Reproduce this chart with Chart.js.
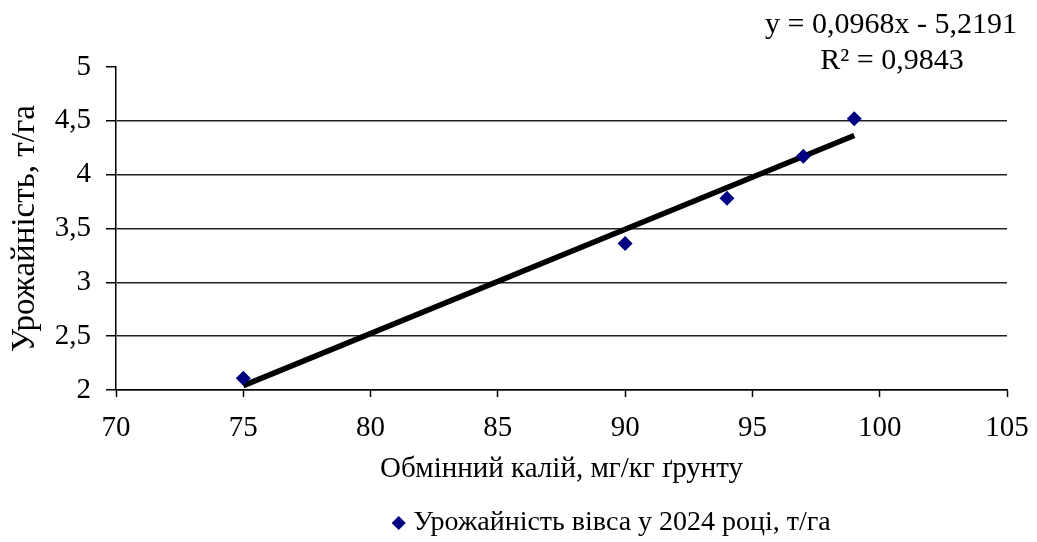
<!DOCTYPE html>
<html>
<head>
    <meta charset="UTF-8">
    <title>Урожайність вівса</title>
    <script src="https://cdn.jsdelivr.net/npm/chart.js@4/dist/chart.umd.min.js"></script>
    <style>
        html, body { margin: 0; padding: 0; background: #fff; overflow: hidden; }
        #wrap { width: 1037px; height: 547px; }
    </style>
</head>
<body>
    <div id="wrap"><canvas id="chart"></canvas></div>

    <script>
        // Обмінний калій (мг/кг) і врожайність вівса (т/га)
        const potassium = [75, 90, 94, 97, 99];
        const yieldOats = [2.11, 3.36, 3.78, 4.17, 4.52];

        // Лінійний тренд: y = 0,0968x - 5,2191
        const trendSlope = 0.0968;
        const trendIntercept = -5.2191;
        const trendRange = [75, 99];

        const xTicks = [70, 75, 80, 85, 90, 95, 100, 105];
        const yTicks = [2, 2.5, 3, 3.5, 4, 4.5, 5];

        const seriesLabel = 'Урожайність вівса у 2024 році, т/га';
        const xTitle = 'Обмінний калій, мг/кг ґрунту';
        const yTitle = 'Урожайність, т/га';
        const eqLines = ['y = 0,0968x - 5,2191', 'R² = 0,9843'];

        const serif = '"Liberation Serif", "Times New Roman", serif';
        const canvasH = 547;
        const plotBottom = 390;
        const legendShift = 111;

        const points = potassium.map((x, i) => ({ x: x, y: yieldOats[i] }));
        const trend = trendRange.map(x => ({ x: x, y: trendSlope * x + trendIntercept }));

        const comma = v => String(v).replace('.', ',');

        // підпис рівняння тренду в правому верхньому куті
        const equationLabel = {
            id: 'equationLabel',
            afterDraw(chart) {
                const ctx = chart.ctx;
                ctx.save();
                ctx.fillStyle = '#000';
                ctx.font = '30px ' + serif;
                ctx.textAlign = 'center';
                ctx.textBaseline = 'middle';
                ctx.fillText(eqLines[0], 891, 25);
                ctx.fillText(eqLines[1], 892, 61);
                ctx.restore();
            }
        };

        // легенда зміщена правіше, під праву частину графіка
        const legendOffset = {
            id: 'legendOffset',
            afterLayout(chart) {
                if (chart.legend) {
                    chart.legend.left += legendShift;
                    chart.legend.right += legendShift;
                }
            }
        };

        new Chart(document.getElementById('chart'), {
            type: 'scatter',
            data: {
                datasets: [
                    {
                        label: seriesLabel,
                        data: points,
                        pointStyle: 'rectRot',
                        pointRadius: 7.5,
                        pointHoverRadius: 7.5,
                        backgroundColor: '#000080',
                        borderColor: '#000080',
                        borderWidth: 0,
                        order: 1
                    },
                    {
                        label: 'trend',
                        type: 'line',
                        data: trend,
                        borderColor: '#000',
                        borderWidth: 5.5,
                        pointRadius: 0,
                        fill: false,
                        order: 2
                    }
                ]
            },
            plugins: [equationLabel, legendOffset],
            options: {
                responsive: true,
                maintainAspectRatio: false,
                animation: false,
                layout: { padding: { left: 0, right: 30, top: 67, bottom: 0 } },
                plugins: {
                    tooltip: { enabled: false },
                    legend: {
                        position: 'bottom',
                        labels: {
                            usePointStyle: true,
                            boxWidth: 1,
                            boxHeight: 10,
                            color: '#000',
                            font: { family: serif, size: 28 },
                            padding: 8,
                            filter: item => item.text !== 'trend'
                        }
                    }
                },
                scales: {
                    x: {
                        type: 'linear',
                        min: 70,
                        max: 105,
                        afterBuildTicks: s => { s.ticks = xTicks.map(v => ({ value: v })); },
                        afterFit: s => {
                            const lh = s.chart.legend ? s.chart.legend.height : 0;
                            s.height = canvasH - plotBottom - lh;
                            s.paddingLeft = 0;
                            s.paddingRight = 0;
                        },
                        border: { display: true, color: '#000', width: 1.5 },
                        grid: {
                            drawOnChartArea: false,
                            drawTicks: true,
                            tickLength: 7,
                            tickColor: '#000',
                            tickWidth: 1.5
                        },
                        ticks: {
                            color: '#000',
                            padding: 14,
                            maxRotation: 0,
                            font: { family: serif, size: 29 },
                            callback: v => comma(v)
                        },
                        title: {
                            display: true,
                            text: xTitle,
                            color: '#000',
                            font: { family: serif, size: 29 },
                            padding: { top: 0, bottom: 14 }
                        }
                    },
                    y: {
                        type: 'linear',
                        min: 2,
                        max: 5,
                        afterBuildTicks: s => { s.ticks = yTicks.map(v => ({ value: v })); },
                        afterFit: s => {
                            s.width = 116;
                            s.paddingTop = 0;
                            s.paddingBottom = 0;
                        },
                        border: { display: true, color: '#000', width: 1.5 },
                        grid: {
                            color: c => (c.tick && c.tick.value === 5) ? 'rgba(0,0,0,0)' : '#222',
                            lineWidth: 1.5,
                            tickColor: '#000',
                            tickLength: 10,
                            tickWidth: 1.5
                        },
                        ticks: {
                            color: '#000',
                            padding: 15,
                            font: { family: serif, size: 29 },
                            callback: v => comma(v)
                        },
                        title: {
                            display: true,
                            text: yTitle,
                            color: '#000',
                            font: { family: serif, size: 33 },
                            padding: { top: 6, bottom: 0 }
                        }
                    }
                }
            }
        });
    </script>
</body>
</html>
